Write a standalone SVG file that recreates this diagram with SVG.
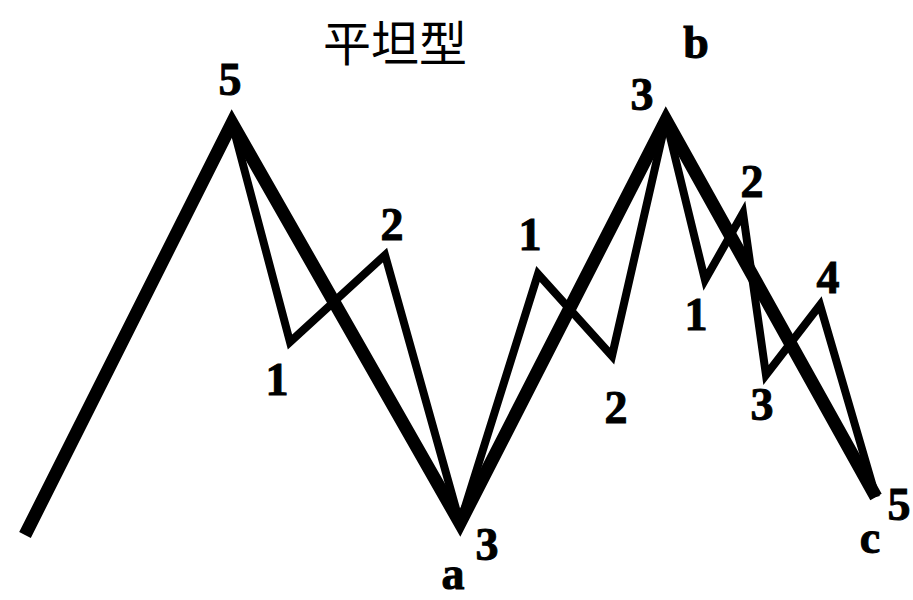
<svg xmlns="http://www.w3.org/2000/svg" width="913" height="600" viewBox="0 0 913 600">
<style>
.thick{fill:none;stroke:#000;stroke-width:13;stroke-linejoin:miter;stroke-linecap:butt}
.thin{fill:none;stroke:#000;stroke-width:8;stroke-linejoin:miter;stroke-linecap:butt}
.lbl{font-family:"Liberation Serif","DejaVu Serif",serif;font-weight:bold;font-size:46px;fill:#000;text-anchor:middle;stroke:#000;stroke-width:1}
.title{font-family:"Noto Sans CJK SC","Noto Sans CJK JP",sans-serif;font-size:48px;fill:#000;text-anchor:middle}
</style>
<rect width="913" height="600" fill="#fff"/>
<g id="connectors">
<polyline class="thick" points="25,535 232,123 460,523 666,120 876,497"/>
<polyline class="thin" points="232,123 290,342 385,255 460,523"/>
<polyline class="thin" points="460,523 538,274 612,356 666,120"/>
<polyline class="thin" points="666,120 705,280 743,213 766,375 820,305 876,497"/>
</g>
<g id="title"><text class="title" x="395" y="61">平坦型</text></g>
<g id="labels">
<text class="lbl" x="230" y="95">5</text>
<text class="lbl" x="642" y="110">3</text>
<text class="lbl" x="696" y="58" font-size="40">b</text>
<text class="lbl" x="392" y="240">2</text>
<text class="lbl" x="277" y="395">1</text>
<text class="lbl" x="530" y="250">1</text>
<text class="lbl" x="616" y="423">2</text>
<text class="lbl" x="752" y="197">2</text>
<text class="lbl" x="696" y="330">1</text>
<text class="lbl" x="828" y="293">4</text>
<text class="lbl" x="762" y="420">3</text>
<text class="lbl" x="487" y="560">3</text>
<text class="lbl" x="453" y="589">a</text>
<text class="lbl" x="899" y="520">5</text>
<text class="lbl" x="870" y="553" font-size="40">c</text>
</g>
</svg>
